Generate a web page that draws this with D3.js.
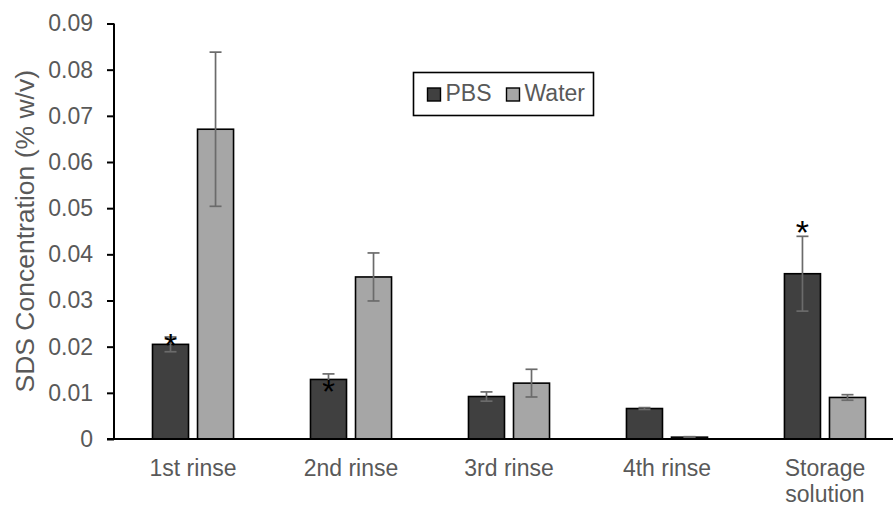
<!DOCTYPE html>
<html>
<head>
<meta charset="utf-8">
<script src="https://cdn.jsdelivr.net/npm/d3@7/dist/d3.min.js"></script>
<style>
  html, body { margin: 0; padding: 0; background: #fff; }
  svg { display: block; font-family: "Liberation Sans", Arial, sans-serif; }
</style>
</head>
<body>
<svg id="chart" width="893" height="506"></svg>
<script>
// Rinse steps along the x axis
const categories = [["1st rinse"], ["2nd rinse"], ["3rd rinse"], ["4th rinse"], ["Storage", "solution"]];
const seriesNames = ["PBS", "Water"];

// Mean SDS concentration (% w/v) and standard deviation per step
const pbsValues   = [0.0205, 0.0129, 0.0092, 0.0066, 0.0358];
const pbsErrors   = [0.0016, 0.0012, 0.0010, 0.0002, 0.0081];
const waterValues = [0.0671, 0.0351, 0.0121, 0.0004, 0.0090];
const waterErrors = [0.0167, 0.0052, 0.0030, 0.0001, 0.0006];

// Significance markers: category index and the level the star sits at
const sigIndex = [0, 1, 4];
const sigLevel = [0.0219, 0.0119, 0.0464];

const yTicks = [0, 0.01, 0.02, 0.03, 0.04, 0.05, 0.06, 0.07, 0.08, 0.09];

const colors = { PBS: "#404040", Water: "#a6a6a6" };
const textColor = "#595959";

const svg = d3.select("#chart");

const plotLeft = 114, plotRight = 904, plotTop = 23.5, plotBottom = 439;

const x0 = d3.scaleBand()
  .domain(categories.map(c => c.join(" ")))
  .range([plotLeft, plotRight])
  .paddingInner(0.487)
  .paddingOuter(0.2437);

const x1 = d3.scaleBand()
  .domain(seriesNames)
  .range([0, x0.bandwidth()])
  .paddingInner(0.2);

const y = d3.scaleLinear().domain([0, 0.09]).range([plotBottom, plotTop]);

const rows = categories.map((c, i) => ({
  key: c.join(" "),
  lines: c,
  items: [
    { series: "PBS", value: pbsValues[i], err: pbsErrors[i] },
    { series: "Water", value: waterValues[i], err: waterErrors[i] }
  ]
}));

// Bars
const groups = svg.append("g").selectAll("g")
  .data(rows).join("g")
  .attr("transform", d => `translate(${x0(d.key)},0)`);

groups.selectAll("rect")
  .data(d => d.items).join("rect")
  .attr("x", d => x1(d.series))
  .attr("y", d => y(d.value))
  .attr("width", x1.bandwidth())
  .attr("height", d => y(0) - y(d.value))
  .attr("fill", d => colors[d.series])
  .attr("stroke", "#000")
  .attr("stroke-width", 1.6);

// Error bars
const capHalf = 6;
const eb = groups.selectAll("g.err")
  .data(d => d.items).join("g")
  .attr("class", "err")
  .attr("stroke", "#6b6b6b")
  .attr("stroke-width", 1.7);
eb.append("line")
  .attr("x1", d => x1(d.series) + x1.bandwidth() / 2)
  .attr("x2", d => x1(d.series) + x1.bandwidth() / 2)
  .attr("y1", d => y(d.value + d.err))
  .attr("y2", d => y(d.value - d.err));
eb.append("line")
  .attr("x1", d => x1(d.series) + x1.bandwidth() / 2 - capHalf)
  .attr("x2", d => x1(d.series) + x1.bandwidth() / 2 + capHalf)
  .attr("y1", d => y(d.value + d.err))
  .attr("y2", d => y(d.value + d.err));
eb.append("line")
  .attr("x1", d => x1(d.series) + x1.bandwidth() / 2 - capHalf)
  .attr("x2", d => x1(d.series) + x1.bandwidth() / 2 + capHalf)
  .attr("y1", d => y(d.value - d.err))
  .attr("y2", d => y(d.value - d.err));

// Significance stars above PBS bars
const starSize = 34;
svg.append("g").selectAll("text")
  .data(sigIndex.map((ci, k) => ({ ci, level: sigLevel[k] })))
  .join("text")
  .attr("x", d => x0(rows[d.ci].key) + x1("PBS") + x1.bandwidth() / 2)
  .attr("y", d => y(d.level) + starSize * 0.57)
  .attr("text-anchor", "middle")
  .attr("font-size", starSize)
  .attr("fill", "#000")
  .text("*");

// Y axis
const yAxis = svg.append("g")
  .attr("transform", `translate(${plotLeft},0)`)
  .call(d3.axisLeft(y).tickValues(yTicks).tickSize(7).tickPadding(14)
    .tickFormat(d => d === 0 ? "0" : d3.format(".2f")(d)));
yAxis.select(".domain").attr("stroke", "#000").attr("stroke-width", 2)
  .attr("d", `M0,${plotTop}V${plotBottom}`);
yAxis.selectAll(".tick line").attr("stroke", "#000").attr("stroke-width", 2);
yAxis.selectAll(".tick text")
  .attr("font-size", 23)
  .attr("fill", textColor)
  .attr("font-family", "'Liberation Sans', Arial, sans-serif");

// X axis baseline
svg.append("line")
  .attr("x1", plotLeft - 7).attr("x2", 893)
  .attr("y1", y(0)).attr("y2", y(0))
  .attr("stroke", "#000").attr("stroke-width", 2);

// Category labels
const xl = svg.append("g").selectAll("text")
  .data(rows).join("text")
  .attr("x", d => x0(d.key) + x0.bandwidth() / 2)
  .attr("y", 476)
  .attr("text-anchor", "middle")
  .attr("font-size", 23)
  .attr("fill", textColor);
xl.selectAll("tspan")
  .data(d => d.lines).join("tspan")
  .attr("x", function () { return d3.select(this.parentNode).attr("x"); })
  .attr("dy", (d, i) => i === 0 ? 0 : 26)
  .text(d => d);

// Y axis title
svg.append("text")
  .attr("transform", `translate(34,${(plotTop + plotBottom) / 2}) rotate(-90)`)
  .attr("text-anchor", "middle")
  .attr("font-size", 26.5)
  .attr("fill", textColor)
  .text("SDS Concentration (% w/v)");

// Legend
const legend = svg.append("g");
legend.append("rect")
  .attr("x", 413.5).attr("y", 72.5).attr("width", 180).attr("height", 43)
  .attr("fill", "#fff").attr("stroke", "#000").attr("stroke-width", 1.6);
const legendX = [427.5, 506.5];
const li = legend.selectAll("g.item")
  .data(seriesNames).join("g")
  .attr("class", "item")
  .attr("transform", (d, i) => `translate(${legendX[i]},0)`);
li.append("rect")
  .attr("x", 0).attr("y", 88).attr("width", 13).attr("height", 13)
  .attr("fill", d => colors[d])
  .attr("stroke", "#000").attr("stroke-width", 1.4);
li.append("text")
  .attr("x", 18).attr("y", 101)
  .attr("font-size", 23)
  .attr("fill", textColor)
  .text(d => d);
</script>
</body>
</html>
